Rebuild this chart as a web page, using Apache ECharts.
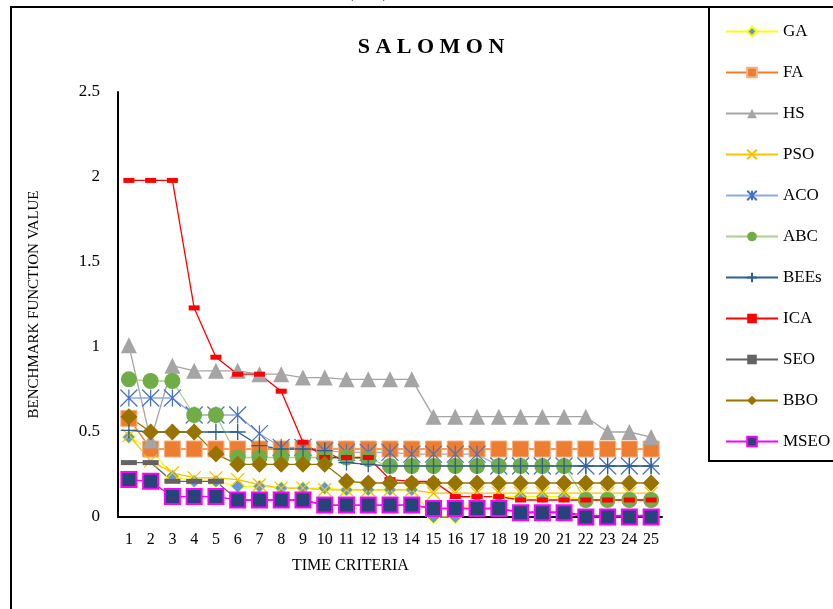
<!DOCTYPE html>
<html>
<head>
<meta charset="utf-8">
<script src="https://cdn.jsdelivr.net/npm/echarts@6/dist/echarts.min.js"></script>
<style>
  html, body { margin: 0; padding: 0; background: #fff; }
  #chart1 { width: 833px; height: 609px; }
</style>
</head>
<body>
<div id="chart1"></div>
<script>
// time criteria 1..25
var categories = ['1','2','3','4','5','6','7','8','9','10','11','12','13','14','15','16','17','18','19','20','21','22','23','24','25'];
var yTicks = [0, 0.5, 1, 1.5, 2, 2.5];

var GA   = [0.47,0.40,0.24,0.21,0.21,0.18,0.18,0.17,0.17,0.17,0.16,0.16,0.16,0.16,0.0,0.0,0.12,0.12,0.12,0.12,0.12,0.10,0.10,0.10,0.10];
var FA   = [0.58,0.40,0.40,0.40,0.40,0.40,0.40,0.40,0.40,0.40,0.40,0.40,0.40,0.40,0.40,0.40,0.40,0.40,0.40,0.40,0.40,0.40,0.40,0.40,0.40];
var HS   = [1.01,0.45,0.89,0.86,0.86,0.86,0.84,0.84,0.82,0.82,0.81,0.81,0.81,0.81,0.59,0.59,0.59,0.59,0.59,0.59,0.59,0.59,0.50,0.50,0.47];
var PSO  = [0.48,0.33,0.26,0.23,0.23,0.22,0.19,0.17,0.17,0.16,0.16,0.16,0.16,0.16,0.14,0.14,0.14,0.14,0.14,0.14,0.14,0.14,0.14,0.14,0.14];
var ACO  = [0.70,0.70,0.70,0.60,0.60,0.60,0.49,0.41,0.41,0.39,0.38,0.38,0.38,0.37,0.37,0.37,0.37,0.30,0.30,0.30,0.30,0.30,0.30,0.30,0.30];
var ABC  = [0.81,0.80,0.80,0.60,0.60,0.35,0.35,0.35,0.35,0.35,0.35,0.34,0.30,0.30,0.30,0.30,0.30,0.30,0.30,0.30,0.30,0.10,0.10,0.10,0.10];
var BEEs = [0.51,0.50,0.50,0.50,0.50,0.50,0.42,0.40,0.40,0.39,0.32,0.31,0.30,0.30,0.30,0.30,0.30,0.30,0.30,0.30,0.30,0.30,0.30,0.30,0.30];
var ICA  = [1.98,1.98,1.98,1.23,0.94,0.84,0.84,0.74,0.44,0.35,0.35,0.35,0.22,0.21,0.21,0.12,0.12,0.12,0.10,0.10,0.10,0.10,0.10,0.10,0.10];
var SEO  = [0.32,0.32,0.21,0.21,0.21,0.10,0.10,0.10,0.10,0.07,0.07,0.07,0.07,0.07,0.05,0.05,0.05,0.05,0.03,0.03,0.03,0.01,0.01,0.01,0.01];
var BBO  = [0.59,0.50,0.50,0.50,0.37,0.31,0.31,0.31,0.31,0.31,0.21,0.20,0.20,0.20,0.20,0.20,0.20,0.20,0.20,0.20,0.20,0.20,0.20,0.20,0.20];
var MSEO = [0.22,0.21,0.12,0.12,0.12,0.10,0.10,0.10,0.10,0.07,0.07,0.07,0.07,0.07,0.05,0.05,0.05,0.05,0.025,0.025,0.025,0,0,0,0];

var serif = 'Liberation Serif';
var starPath = 'path://M0 0 L10 10 M10 0 L0 10 M5 0 L5 10';
var crossPath = 'path://M0 0 L10 10 M10 0 L0 10';
var plusPath = 'path://M5 0 L5 10 M0 5 L10 5';

function mk(name, data, lineColor, sym, size, fill, border, bw) {
    return {
        name: name,
        type: 'line',
        data: data,
        symbol: sym,
        symbolSize: size,
        showAllSymbol: true,
        lineStyle: { color: lineColor, width: 1.3 },
        itemStyle: { color: fill, borderColor: border, borderWidth: bw },
        emphasis: { disabled: true },
        animation: false
    };
}

var _chart1 = echarts.init(document.getElementById('chart1'));
var option = {
    backgroundColor: '#fff',
    title: {
        text: 'S A L O M O N',
        left: 426,
        top: 31,
        textAlign: 'center',
        textStyle: { fontFamily: serif, fontSize: 22, fontWeight: 'bold', color: '#000' }
    },
    grid: { left: 118, right: 171, top: 92, bottom: 92 },
    legend: {
        orient: 'vertical',
        left: 720,
        top: 18,
        itemWidth: 52,
        itemHeight: 12,
        itemGap: 24,
        data: ['GA','FA','HS','PSO','ACO','ABC','BEEs','ICA','SEO','BBO','MSEO'],
        textStyle: { fontFamily: serif, fontSize: 17, color: '#000' }
    },
    graphic: [
        { type: 'rect', shape: { x: 11, y: 7, width: 840, height: 620 }, style: { fill: 'none', stroke: '#000', lineWidth: 2 }, z: -1 },
        { type: 'rect', shape: { x: 709, y: 7, width: 140, height: 454 }, style: { fill: '#fff', stroke: '#000', lineWidth: 2 }, z: -1 },
        { type: 'text', left: 335, top: -17, style: { text: 'a (Ca2)', fontFamily: serif, fontSize: 18, fill: '#000' } },
        { type: 'text', left: 292, top: 558, style: { text: 'TIME CRITERIA', fontFamily: serif, fontSize: 16, fill: '#000' } }
    ],
    xAxis: {
        type: 'category',
        data: categories,
        boundaryGap: true,
        axisLine: { lineStyle: { color: '#000', width: 2 } },
        axisTick: { show: false },
        axisLabel: { interval: 0, fontFamily: serif, fontSize: 16, color: '#000', margin: 15 }
    },
    yAxis: {
        type: 'value',
        min: yTicks[0],
        max: yTicks[yTicks.length - 1],
        interval: 0.5,
        name: 'BENCHMARK FUNCTION VALUE',
        nameLocation: 'middle',
        nameGap: 76,
        nameTextStyle: { fontFamily: serif, fontSize: 15, color: '#000' },
        axisLine: { show: true, lineStyle: { color: '#000', width: 2 } },
        axisTick: { show: false },
        splitLine: { show: false },
        axisLabel: { fontFamily: serif, fontSize: 17, color: '#000', margin: 18 }
    },
    series: [
        mk('GA', GA, '#FFFF00', 'diamond', 13, '#5B9BD5', '#FFFF00', 1),
        mk('FA', FA, '#ED7D31', 'rect', 16, '#ED7D31', '#F4B183', 1),
        mk('HS', HS, '#A5A5A5', 'triangle', 16, '#A5A5A5', '#A5A5A5', 0),
        mk('PSO', PSO, '#FFC000', crossPath, 13, 'none', '#FFC000', 1.3),
        mk('ACO', ACO, '#8FAADC', starPath, 17, 'none', '#4472C4', 1.2),
        mk('ABC', ABC, '#A9D18E', 'circle', 16, '#70AD47', '#70AD47', 0),
        mk('BEEs', BEEs, '#2E5E91', plusPath, 16, 'none', '#2E5E91', 1.3),
        mk('ICA', ICA, '#FF0000', 'rect', [11, 5], '#FF0000', '#FF0000', 0),
        mk('SEO', SEO, '#636363', 'rect', [16, 5], '#636363', '#636363', 0),
        mk('BBO', BBO, '#997300', 'diamond', 17, '#997300', '#997300', 0),
        mk('MSEO', MSEO, '#FF00FF', 'rect', 15, '#264478', '#FF00FF', 2)
    ]
};
_chart1.setOption(option);
</script>
</body>
</html>
